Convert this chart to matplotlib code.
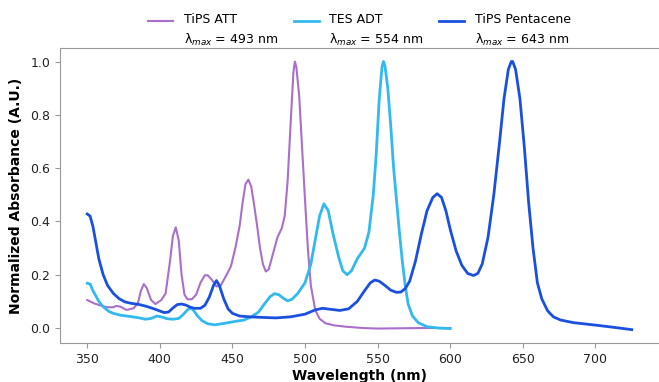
import numpy as np
import matplotlib.pyplot as plt

# TiPS ATT
att_wl = [350, 355, 360, 364, 368, 370, 373, 377, 382, 385, 387, 389, 391, 394, 397,
          401, 404, 407, 409, 411, 413, 415, 417, 419, 422, 425, 428, 431, 433, 436,
          439, 442, 446, 449, 452, 455, 457, 459, 461, 463, 465, 467, 469, 471, 473,
          475, 478, 481, 484, 486, 488, 490, 492, 493, 494, 496, 498, 500, 502, 504,
          507, 510, 514, 520, 528, 540, 550, 565, 580, 600]
att_abs = [0.105, 0.092, 0.083, 0.078, 0.078, 0.083, 0.080, 0.068, 0.074, 0.095, 0.140, 0.165, 0.150, 0.105, 0.090,
           0.105, 0.130, 0.250, 0.345, 0.378, 0.330, 0.200, 0.125, 0.108, 0.108, 0.125, 0.170, 0.198, 0.198, 0.180,
           0.156, 0.160, 0.200, 0.232, 0.300, 0.384, 0.470, 0.540, 0.557, 0.530, 0.460, 0.384, 0.300, 0.240, 0.212,
           0.220, 0.280, 0.340, 0.375, 0.420, 0.550, 0.760, 0.960, 1.000, 0.980, 0.870, 0.674, 0.480, 0.295, 0.160,
           0.068, 0.035, 0.018, 0.010, 0.005, 0.000, -0.002, -0.001, 0.000, 0.000]

# TES ADT
adt_wl = [350, 352, 354, 358, 361, 365, 368, 373, 380, 386, 390, 394, 398, 401, 405,
          409, 413, 416, 419, 421, 423, 426, 429, 433, 438, 445, 452, 458, 463, 468,
          472, 476, 479, 482, 485, 488, 491, 495, 500, 504, 507, 510, 513, 516, 519,
          523, 526, 529, 532, 536, 541, 544, 547, 549, 551, 553, 554, 555, 557, 559,
          561, 563, 565, 567, 569, 571, 574, 578, 584, 592, 600]
adt_abs = [0.168, 0.165, 0.140, 0.100, 0.080, 0.062, 0.055, 0.048, 0.043, 0.038, 0.033, 0.036, 0.045, 0.042, 0.035,
           0.033, 0.036, 0.050, 0.068, 0.075, 0.068, 0.045, 0.028, 0.016, 0.012, 0.018, 0.025, 0.030, 0.042, 0.060,
           0.090, 0.118, 0.129, 0.125, 0.112, 0.102, 0.108, 0.130, 0.170, 0.240, 0.330, 0.420, 0.466, 0.440, 0.360,
           0.270, 0.215, 0.200, 0.215, 0.260, 0.300, 0.360, 0.500, 0.650, 0.850, 0.980, 1.000, 0.985, 0.900, 0.760,
           0.600, 0.480, 0.360, 0.250, 0.160, 0.090, 0.045, 0.020, 0.005, 0.000, -0.002]

# TiPS Pentacene
pen_wl = [350, 352, 354, 356, 358, 361, 364, 368, 372, 376, 380, 386, 391, 396, 400,
          403, 406, 409, 412, 415, 418, 421, 424, 428, 431, 434, 437, 439, 441, 444,
          447, 450, 455, 462, 470, 480, 490, 500, 507, 512, 518, 524, 530, 536, 541,
          545, 548, 551, 555, 559, 563, 566, 569, 572, 576, 580, 584, 588, 591, 594,
          597, 600, 604, 608, 612, 616, 619, 622, 626, 630, 634, 637, 640, 642, 643,
          645, 648, 651, 654, 657, 660, 663, 667, 671, 676, 685, 700, 712, 725]
pen_abs = [0.428, 0.420, 0.380, 0.320, 0.260, 0.200, 0.160, 0.130, 0.110, 0.098, 0.093, 0.088, 0.081, 0.072, 0.064,
           0.058, 0.060, 0.075, 0.088, 0.090, 0.086, 0.078, 0.074, 0.074, 0.085, 0.115, 0.160, 0.178, 0.160, 0.110,
           0.072, 0.055, 0.045, 0.042, 0.040, 0.038, 0.042, 0.052, 0.068, 0.074, 0.070, 0.066, 0.072, 0.100, 0.140,
           0.170, 0.180, 0.176, 0.160, 0.142, 0.134, 0.135, 0.148, 0.175, 0.250, 0.350, 0.440, 0.490, 0.504, 0.490,
           0.440, 0.370, 0.290, 0.235, 0.205, 0.197, 0.205, 0.240, 0.340, 0.500, 0.700, 0.860, 0.970, 1.000, 1.000,
           0.970, 0.860, 0.680, 0.470, 0.300, 0.170, 0.110, 0.065, 0.042, 0.030, 0.020, 0.011, 0.003, -0.006]

labels = ['TiPS ATT\nλ$_{max}$ = 493 nm',
          'TES ADT\nλ$_{max}$ = 554 nm',
          'TiPS Pentacene\nλ$_{max}$ = 643 nm']

fig = plt.figure(figsize=(6.59, 3.82), dpi=100)
ax = fig.add_axes([0.091, 0.102, 0.909, 0.772])

ax.plot(att_wl, att_abs, color='#a96fcb', lw=1.5, label=labels[0])
ax.plot(adt_wl, adt_abs, color='#32b9ef', lw=2, label=labels[1])
ax.plot(pen_wl, pen_abs, color='#1a50e0', lw=2, label=labels[2])

ax.set_xticks([350, 400, 450, 500, 550, 600, 650, 700])
ax.set_yticks([0.0, 0.2, 0.4, 0.6, 0.8, 1.0])
for s in ax.spines.values():
    s.set_color('#999999')
ax.spines['right'].set_visible(False)
ax.tick_params(colors='#999999', labelcolor='#222222', labelsize=9)
ax.set_xlabel('Wavelength (nm)', fontsize=10, fontweight='bold')
ax.xaxis.set_label_coords(0.5, -0.088)
ax.set_ylabel('Normalized Absorbance (A.U.)', fontsize=10, fontweight='bold', labelpad=5)

leg = ax.legend(loc='lower center', bbox_to_anchor=(0.5, 0.98), ncol=3, frameon=False,
                fontsize=9, handlelength=2.0, handletextpad=0.85, columnspacing=1.25,
                borderaxespad=0.1)
for t in leg.get_texts():
    t.set_linespacing(1.5)
# handle sits level with the first line of each label
for ln in leg.get_lines():
    ln.set_ydata(np.asarray(ln.get_ydata()) + 7)

fig.savefig('out.png', dpi=100)
